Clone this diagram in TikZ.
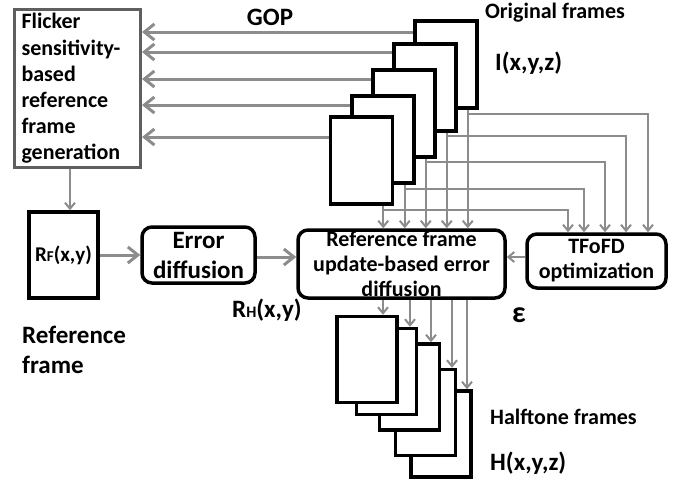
\documentclass[tikz,border=0pt]{standalone}
\usepackage{fontspec}
\setmainfont{Carlito}
\definecolor{linegray}{RGB}{140,140,140}
\definecolor{edgegray}{RGB}{95,95,95}
\usetikzlibrary{arrows.meta,positioning,calc}

\begin{document}
\begin{tikzpicture}[
  x=1pt,y=-1pt,
  txt/.style={font=\bfseries\fontsize{22}{25}\selectfont,inner sep=0pt},
  bigtxt/.style={font=\bfseries\fontsize{25}{30}\selectfont,inner sep=0pt},
  framebox/.style={
    draw,
    line width=3.5pt,
    fill=white,
    minimum width=62pt,
    minimum height=87pt,
    inner sep=0pt
  },
  block/.style={
    draw,
    line width=3.5pt,
    rounded corners=10pt,
    align=center,
    fill=white,
    inner sep=0pt
  },
  thickarrow/.style={-{Straight Barb[length=10pt,width=16pt]},line width=3pt,linegray},
  arrow/.style={-{Straight Barb[length=6pt,width=10pt]},line width=2pt,linegray}
]
\useasboundingbox (0,0) rectangle (676,483);

% flicker-based reference generation
\node[draw=edgegray,line width=3pt,minimum width=126pt,minimum height=158pt,
  text width=112pt,align=left,txt,font=\bfseries\fontsize{22}{26.2}\selectfont]
  (flicker) at (77.5,88.5) {Flicker\\sensitivity-\\based\\reference\\frame\\generation};
\node[bigtxt] (gop) at (270,17) {GOP};

% original frames, back to front
\foreach \n/\x/\y in {1/446/64.5,2/425/87.5,3/404/113.5,4/383/139.5,5/361.5/160.5}
  \node[framebox] (o\n) at (\x,\y) {};
\node[txt] (origlbl) at (555,13) {Original frames};
\node[bigtxt,anchor=west] (ilbl) at (495,63) {I(x,y,z)};

% processing blocks
\node[framebox,minimum width=69pt,minimum height=86pt,font=\bfseries\fontsize{21}{21}\selectfont]
  (rf) at (63.5,255) {R{\fontsize{15}{15}\selectfont F}(x,y)};
\node[block,bigtxt,minimum width=113pt,minimum height=56pt] (err) at (198.5,255) {Error\\diffusion};
\node[block,txt,minimum width=207pt,minimum height=68pt] (refbox) at (401.5,264)
  {Reference frame\\update-based error\\diffusion};
\node[block,txt,minimum width=139pt,minimum height=54pt] (tfofd) at (596.5,261) {TFoFD\\optimization};

\node[bigtxt,anchor=west,align=left] (reflbl) at (22,350) {Reference\\frame};
\node[bigtxt] (rhlbl) at (267,310) {R{\fontsize{16}{16}\selectfont H}(x,y)};
\node[bigtxt,font=\bfseries\fontsize{30}{30}\selectfont] (eps) at (519,315) {ε};

% halftone frames, back to front
\foreach \n/\x/\y in {5/441/434,4/425.5/412.5,3/409.5/387,2/386.5/371.5,1/367/359.5}
  \node[framebox,minimum width=60pt,minimum height=86pt] (h\n) at (\x,\y) {};
\node[txt,anchor=west] (halflbl) at (490,417) {Halftone frames};
\node[bigtxt,anchor=west] (hlbl) at (490,463) {H(x,y,z)};

% GOP to flicker box
\foreach \n/\y in {1/32,2/52,3/79,4/105,5/137}
  \draw[thickarrow] (o\n.west |- 0,\y) -- (flicker.east |- 0,\y);

% frames down to the two blocks
\foreach \n/\b/\t in {1/114/648,2/136/626,3/162/605,4/189/584,5/210/568}{
  \coordinate (d\n) at ([xshift=-11pt]o\n.south east);
  \draw[arrow] (d\n) -- (d\n |- refbox.north);
  \draw[arrow] (d\n |- 0,\b) -| (tfofd.north -| \t,0);
}

\draw[arrow] (flicker.south -| 70,0) -- (rf.north -| 70,0);
\draw[thickarrow] (rf) -- (err);
\draw[thickarrow] (err.east |- 0,257) -- (refbox.west |- 0,257);
\draw[arrow] (tfofd.west |- 0,257) -- (refbox.east |- 0,257);

% update-based diffusion to halftone frames
\foreach \n/\x in {1/383,2/410,3/431,4/452,5/467}
  \draw[arrow] (refbox.south -| \x,0) -- (h\n.north -| \x,0);
\end{tikzpicture}
\end{document}
